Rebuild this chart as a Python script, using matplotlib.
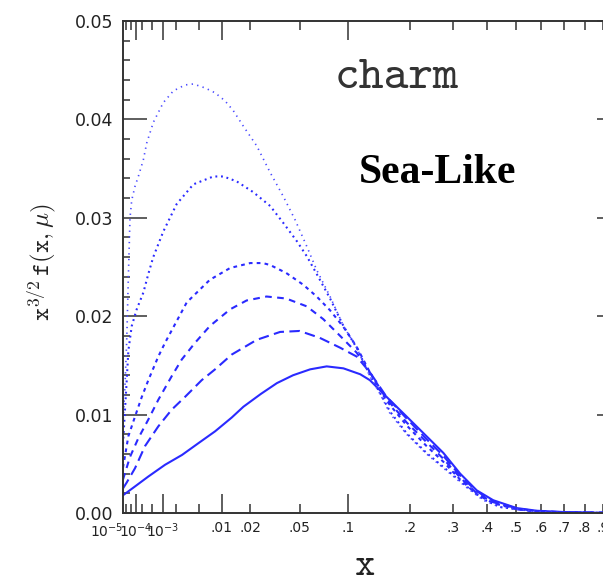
import numpy as np
import matplotlib
matplotlib.use("Agg")
import matplotlib.pyplot as plt
import matplotlib.transforms as mtransforms
from matplotlib.ticker import FixedLocator, FixedFormatter

plt.rcParams['mathtext.fontset'] = 'cm'
plt.rcParams['axes.unicode_minus'] = False

# ---------------- data ----------------
solid_x = [1e-5, 9.2e-5, 3.6e-4, 1.13e-3, 2.6e-3, 4.9e-3, 8.3e-3, 1.3e-2, 1.72e-2, 2.5e-2,
           3.4e-2, 4.5e-2, 5.9e-2, 7.5e-2, 9.4e-2, 0.116, 0.130, 0.157, 0.194, 0.236,
           0.276, 0.320, 0.368, 0.420, 0.503, 0.581, 0.697, 0.863, 1.0]
solid_y = [0.0018, 0.0027, 0.0037, 0.0049, 0.0059, 0.0071, 0.0083, 0.0097, 0.0108, 0.0121,
           0.0132, 0.0140, 0.0146, 0.0149, 0.0147, 0.0141, 0.0135, 0.0118, 0.0098, 0.0078,
           0.0061, 0.0040, 0.0023, 0.0013, 0.0005, 0.00023, 0.0001, 0.00003, 0.0]

long_x = [1e-5, 2.4e-5, 9.2e-5, 2.72e-4, 7.5e-4, 1.61e-3, 2.95e-3, 5.47e-3, 8.3e-3, 1.3e-2,
          2.3e-2, 3.6e-2, 5.0e-2, 6.8e-2, 9.0e-2, 0.111, 0.130, 0.157, 0.194, 0.236,
          0.276, 0.320, 0.368, 0.420, 0.503, 0.581, 0.697, 1.0]
long_y = [0.0025, 0.0031, 0.00455, 0.0068, 0.0088, 0.0105, 0.0118, 0.0135, 0.0146, 0.0161,
          0.0176, 0.0184, 0.0185, 0.0178, 0.0168, 0.0159, 0.0143, 0.0118, 0.0096, 0.0075,
          0.0058, 0.0038, 0.0022, 0.0012, 0.00045, 0.0002, 0.00008, 0.0]

med_x = [1e-5, 4.4e-5, 1.38e-4, 3.63e-4, 7.5e-4, 1.61e-3, 2.57e-3, 4.34e-3, 7.1e-3, 1.25e-2,
         1.85e-2, 2.8e-2, 4.0e-2, 5.6e-2, 7.15e-2, 9.0e-2, 0.111, 0.130, 0.157, 0.194,
         0.236, 0.276, 0.320, 0.368, 0.420, 0.503, 0.581, 0.697, 1.0]
med_y = [0.0034, 0.0057, 0.0076, 0.0095, 0.0115, 0.0139, 0.0156, 0.0173, 0.0190, 0.0207,
         0.0216, 0.0220, 0.0218, 0.0210, 0.0197, 0.0180, 0.0163, 0.0143, 0.0116, 0.0092,
         0.0072, 0.0055, 0.0036, 0.0020, 0.0011, 0.0004, 0.00018, 0.00007, 0.0]

short_x = [1e-5, 3.3e-5, 9.2e-5, 2.0e-4, 3.63e-4, 7.5e-4, 1.13e-3, 3.16e-3, 7.1e-3, 1.25e-2,
           2.0e-2, 2.6e-2, 3.0e-2, 4.0e-2, 5.3e-2, 6.5e-2, 7.86e-2, 9.4e-2, 0.111, 0.130,
           0.157, 0.194, 0.236, 0.276, 0.320, 0.368, 0.420, 0.503, 0.581, 0.697, 1.0]
short_y = [0.0046, 0.0078, 0.0098, 0.0118, 0.0135, 0.0159, 0.0173, 0.0214, 0.0237, 0.0249,
           0.0254, 0.0254, 0.0252, 0.0244, 0.0232, 0.0220, 0.0206, 0.0189, 0.0169, 0.0143,
           0.0114, 0.0089, 0.0068, 0.0052, 0.0034, 0.0019, 0.0010, 0.00037, 0.00016, 0.00006, 0.0]

dot_x = [1e-5, 2.4e-5, 3.3e-5, 5.8e-5, 1.14e-4, 2.33e-4, 3.63e-4, 5.3e-4, 1.02e-3, 2.05e-3,
         4.08e-3, 7.9e-3, 1.05e-2, 1.47e-2, 2.14e-2, 3.0e-2, 3.8e-2, 4.8e-2, 5.6e-2, 6.5e-2,
         7.86e-2, 9.4e-2, 0.111, 0.130, 0.146, 0.163, 0.194, 0.236, 0.284, 0.338,
         0.388, 0.443, 0.58, 0.7, 1.0]
dot_y = [0.0070, 0.0135, 0.0165, 0.0190, 0.0207, 0.0224, 0.0243, 0.0260, 0.0286, 0.0314,
         0.0334, 0.0342, 0.0342, 0.0337, 0.0326, 0.0312, 0.0295, 0.0276, 0.0261, 0.0243,
         0.0218, 0.0190, 0.0168, 0.0140, 0.0122, 0.0103, 0.0081, 0.0061, 0.0044, 0.0027,
         0.0014, 0.0006, 0.00015, 0.00005, 0.0]

top_x = [1e-5, 1.66e-5, 2.4e-5, 3.3e-5, 4.4e-5, 5.8e-5, 9.2e-5, 1.38e-4, 2.33e-4, 3.17e-4,
         5.34e-4, 1.02e-3, 1.75e-3, 2.95e-3, 4.08e-3, 6.1e-3, 8.3e-3, 1.09e-2, 1.35e-2, 1.72e-2,
         2.3e-2, 3.0e-2, 3.8e-2, 4.65e-2, 5.6e-2, 6.5e-2, 7.86e-2, 9.4e-2, 0.111, 0.130,
         0.146, 0.163, 0.194, 0.236, 0.284, 0.338, 0.388, 0.443, 0.58, 0.7, 1.0]
top_y = [0.0090, 0.0130, 0.0175, 0.0240, 0.0300, 0.0318, 0.0332, 0.0342, 0.0359, 0.0376,
         0.0397, 0.0417, 0.0429, 0.0435, 0.0436, 0.0432, 0.0427, 0.0419, 0.0409, 0.0393,
         0.0373, 0.0346, 0.0322, 0.0298, 0.0271, 0.0247, 0.0220, 0.0190, 0.0168, 0.0139,
         0.0121, 0.0101, 0.0080, 0.0060, 0.0043, 0.0026, 0.0013, 0.0006, 0.00014, 0.00004, 0.0]

x_major = [1e-4, 1e-3, 1e-2, 1e-1]
x_major_labels = [r'$\mathregular{10^{-4}}$', r'$\mathregular{10^{-3}}$', '.01', '.1']
x_minor = [2e-5, 5e-5, 2e-4, 5e-4, 2e-3, 5e-3, 0.02, 0.05, 0.2, 0.3, 0.4, 0.5, 0.6, 0.7, 0.8, 0.9]
x_minor_labels = ['', '', '', '', '', '', '.02', '.05', '.2', '.3', '.4', '.5', '.6', '.7', '.8', '.9']
y_major = [0.0, 0.01, 0.02, 0.03, 0.04, 0.05]
y_major_labels = ['0.00', '0.01', '0.02', '0.03', '0.04', '0.05']
y_minor = [v / 1000 for v in range(2, 50, 2) if v % 10 != 0]

# ---------------- figure ----------------
W, H = 603, 575
fig = plt.figure(figsize=(W / 100, H / 100), dpi=100)
ax = fig.add_axes([123 / W, 62 / H, 498 / W, 492 / H])

ax.set_xscale('function', functions=(np.cbrt, lambda u: u ** 3))
ax.set_xlim(1e-5, 1.0)
ax.set_ylim(0, 0.05)

blue = '#2a2aff'
ax.plot(solid_x, solid_y, color=blue, lw=1.5, ls='-')
ax.plot(long_x, long_y, color=blue, lw=1.5, ls=(0, (5, 2.6)))
ax.plot(med_x, med_y, color=blue, lw=1.5, ls=(0, (3.2, 2.6)))
ax.plot(short_x, short_y, color=blue, lw=1.5, ls=(0, (1.8, 2.0)))
ax.plot(dot_x, dot_y, color=blue, lw=1.5, ls=(0, (0.9, 1.8)))
ax.plot(top_x, top_y, color='#4a4aff', lw=1.2, ls=(0, (0.8, 2.6)))

# ticks
ax.xaxis.set_major_locator(FixedLocator(x_major))
ax.xaxis.set_major_formatter(FixedFormatter(x_major_labels))
ax.xaxis.set_minor_locator(FixedLocator(x_minor))
ax.xaxis.set_minor_formatter(FixedFormatter(x_minor_labels))
ax.yaxis.set_major_locator(FixedLocator(y_major))
ax.yaxis.set_major_formatter(FixedFormatter(y_major_labels))
ax.yaxis.set_minor_locator(FixedLocator(y_minor))

edge = '#333333'
for s in ax.spines.values():
    s.set_linewidth(1.4)
    s.set_color(edge)

ax.tick_params(axis='both', which='both', direction='in', top=True, right=True,
               color=edge, width=1.1)
ax.tick_params(axis='x', which='major', length=14, labelsize=10, pad=6)
ax.tick_params(axis='x', which='minor', length=6.5, labelsize=10, pad=6)
ax.tick_params(axis='y', which='major', length=17, labelsize=12.5, pad=7)
ax.tick_params(axis='y', which='minor', length=5)
for lab in ax.get_xticklabels(which='both'):
    lab.set_color('#222222')
for lab in ax.get_yticklabels():
    lab.set_color('#222222')

# 10^-5 label at the left edge
trans = mtransforms.blended_transform_factory(ax.transData, ax.transAxes)
ax.text(1e-5, -0.018, r'$\mathregular{10^{-5}}$', transform=trans, ha='right', va='top',
        fontsize=10, color='#222222')

# annotations
ax.text(0.4257, 0.864, 'charm', transform=ax.transAxes, fontsize=34,
        family='cmtt10', color='#333333', va='baseline', ha='left')
ax.text(0.474, 0.671, 'Sea-Like', transform=ax.transAxes, fontsize=30,
        family='Liberation Serif', weight='bold', color='black', va='baseline', ha='left')

# axis labels
fig.text(42 / W, 1 - 262 / H, r'$\mathtt{x}^{3/2}\,\mathtt{f(x,}\mu\mathtt{)}$', rotation=90,
         ha='center', va='center', fontsize=18, color='#222222')
fig.text(365 / W, 0.0, 'x', ha='center', va='baseline', fontsize=28,
         family='cmtt10', color='#222222')

fig.savefig('out.png', dpi=100)
